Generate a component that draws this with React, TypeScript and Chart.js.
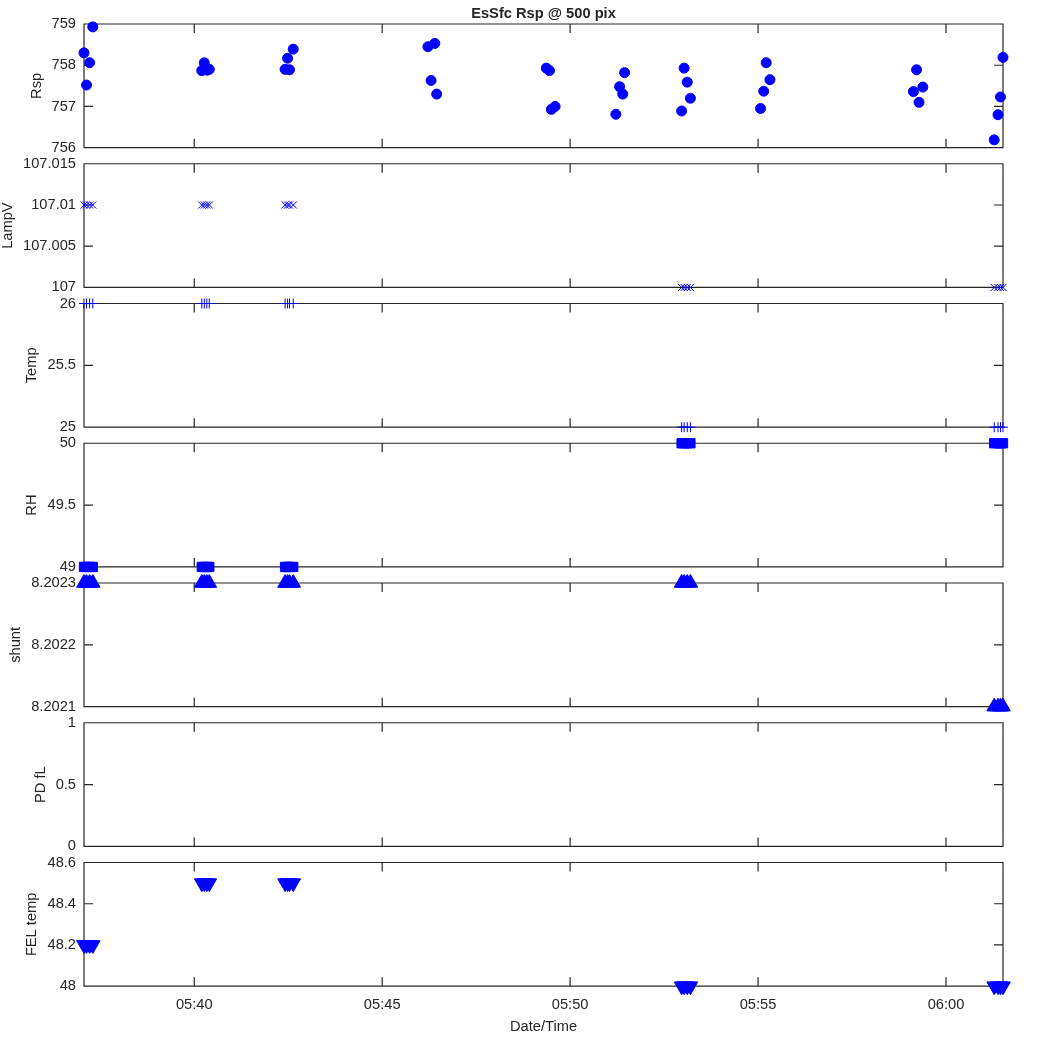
import React, { useEffect, useRef } from "react";
import { Chart, registerables } from "chart.js";

Chart.register(...registerables);

// ---------------- data ----------------
const TITLE = "EsSfc Rsp @ 500 pix";
const X_TITLE = "Date/Time";
const X_TICKS = ["05:40", "05:45", "05:50", "05:55", "06:00"];

const RSP_TIMES = [
  "05:37:04", "05:37:08", "05:37:13", "05:37:18",
  "05:40:12", "05:40:16", "05:40:20", "05:40:24",
  "05:42:25", "05:42:29", "05:42:32", "05:42:38",
  "05:46:13", "05:46:18", "05:46:24", "05:46:27",
  "05:49:22", "05:49:27", "05:49:30", "05:49:36",
  "05:51:13", "05:51:19", "05:51:24", "05:51:27",
  "05:52:58", "05:53:02", "05:53:07", "05:53:12",
  "05:55:04", "05:55:09", "05:55:13", "05:55:19",
  "05:59:08", "05:59:13", "05:59:17", "05:59:23",
  "06:01:17", "06:01:23", "06:01:27", "06:01:31",
];
const RSP = [
  758.30, 757.52, 758.06, 758.93,
  757.87, 758.06, 757.88, 757.90,
  757.90, 758.17, 757.89, 758.39,
  758.45, 757.63, 758.53, 757.30,
  757.93, 757.87, 756.93, 757.00,
  756.81, 757.48, 757.30, 757.82,
  756.89, 757.93, 757.59, 757.20,
  756.95, 757.37, 758.06, 757.65,
  757.36, 757.89, 757.10, 757.47,
  756.19, 756.80, 757.23, 758.19,
];

const AUX_TIMES = [
  "05:37:04", "05:37:08", "05:37:13", "05:37:18",
  "05:40:12", "05:40:16", "05:40:20", "05:40:24",
  "05:42:25", "05:42:29", "05:42:32", "05:42:38",
  "05:52:58", "05:53:02", "05:53:07", "05:53:12",
  "06:01:17", "06:01:23", "06:01:27", "06:01:31",
];
const LAMPV = [
  107.01, 107.01, 107.01, 107.01,
  107.01, 107.01, 107.01, 107.01,
  107.01, 107.01, 107.01, 107.01,
  107.0, 107.0, 107.0, 107.0,
  107.0, 107.0, 107.0, 107.0,
];
const TEMP = [
  26, 26, 26, 26,
  26, 26, 26, 26,
  26, 26, 26, 26,
  25, 25, 25, 25,
  25, 25, 25, 25,
];
const RH = [
  49, 49, 49, 49,
  49, 49, 49, 49,
  49, 49, 49, 49,
  50, 50, 50, 50,
  50, 50, 50, 50,
];
const SHUNT = [
  8.2023, 8.2023, 8.2023, 8.2023,
  8.2023, 8.2023, 8.2023, 8.2023,
  8.2023, 8.2023, 8.2023, 8.2023,
  8.2023, 8.2023, 8.2023, 8.2023,
  8.2021, 8.2021, 8.2021, 8.2021,
];
const PD_FL: number[] = [];
const FEL_TEMP = [
  48.2, 48.2, 48.2, 48.2,
  48.5, 48.5, 48.5, 48.5,
  48.5, 48.5, 48.5, 48.5,
  48.0, 48.0, 48.0, 48.0,
  48.0, 48.0, 48.0, 48.0,
];

const Y_TICKS_RSP = [756, 757, 758, 759];
const Y_TICKS_LAMPV = [107, 107.005, 107.01, 107.015];
const Y_TICKS_TEMP = [25, 25.5, 26];
const Y_TICKS_RH = [49, 49.5, 50];
const Y_TICKS_SHUNT = [8.2021, 8.2022, 8.2023];
const Y_TICKS_PD = [0, 0.5, 1];
const Y_TICKS_FEL = [48, 48.2, 48.4, 48.6];

// ---------------- helpers ----------------
const toMin = (s: string) => {
  const p = s.split(":").map(Number);
  return p[0] * 60 + p[1] + (p[2] || 0) / 60;
};
const fmtTime = (v: number) => {
  const h = Math.floor(v / 60 + 1e-9);
  const m = Math.round(v - h * 60);
  return String(h).padStart(2, "0") + ":" + String(m).padStart(2, "0");
};
const fmtNum = (v: number) => String(parseFloat(v.toFixed(4)));

const FONT_FAMILY = "'Liberation Sans', Arial, Helvetica, sans-serif";
const FONT_SIZE = 14.67;
const TEXT_COLOR = "#262626";
const AXIS_COLOR = "#262626";
const BLUE = "#0000ff";

const W = 1050;
const H = 1050;
const PLOT_LEFT = 84;
const PLOT_RIGHT = 1003;
const FIRST_TOP = 24;
const PITCH = 139.75;
const PANEL_H = 123.7;
const X_AXIS_H = 40;
const TICK_LEN = 9;

const X_MIN = toMin(RSP_TIMES[0]);
const X_MAX = toMin(RSP_TIMES[RSP_TIMES.length - 1]);

type Panel = {
  label: string;
  times: string[];
  values: number[];
  yTicks: number[];
  pointStyle: string;
  radius: number;
  rotation?: number;
};

const PANELS: Panel[] = [
  { label: "Rsp", times: RSP_TIMES, values: RSP, yTicks: Y_TICKS_RSP, pointStyle: "circle", radius: 5 },
  { label: "LampV", times: AUX_TIMES, values: LAMPV, yTicks: Y_TICKS_LAMPV, pointStyle: "crossRot", radius: 5 },
  { label: "Temp", times: AUX_TIMES, values: TEMP, yTicks: Y_TICKS_TEMP, pointStyle: "cross", radius: 5 },
  { label: "RH", times: AUX_TIMES, values: RH, yTicks: Y_TICKS_RH, pointStyle: "rect", radius: 6.6 },
  { label: "shunt", times: AUX_TIMES, values: SHUNT, yTicks: Y_TICKS_SHUNT, pointStyle: "triangle", radius: 8.5 },
  { label: "PD fL", times: [], values: PD_FL, yTicks: Y_TICKS_PD, pointStyle: "circle", radius: 5 },
  { label: "FEL temp", times: AUX_TIMES, values: FEL_TEMP, yTicks: Y_TICKS_FEL, pointStyle: "triangle", radius: 8.5, rotation: 180 },
];

const framePlugin = {
  id: "matlabFrame",
  beforeDatasetsDraw(chart: any) {
    const opts = chart.options.plugins.matlabFrame || {};
    const { ctx, chartArea } = chart;
    const { left, right, top, bottom } = chartArea;
    const xs = chart.scales.x;
    const ys = chart.scales.y;
    ctx.save();
    ctx.strokeStyle = AXIS_COLOR;
    ctx.lineWidth = 1.2;
    ctx.beginPath();
    ctx.rect(left, top, right - left, bottom - top);
    // x ticks (top & bottom, inward)
    X_TICKS.forEach((t) => {
      const px = xs.getPixelForValue(toMin(t));
      ctx.moveTo(px, bottom);
      ctx.lineTo(px, bottom - TICK_LEN);
      ctx.moveTo(px, top);
      ctx.lineTo(px, top + TICK_LEN);
    });
    // y ticks (left & right, inward)
    (opts.yTicks || []).forEach((v: number) => {
      const py = ys.getPixelForValue(v);
      ctx.moveTo(left, py);
      ctx.lineTo(left + TICK_LEN, py);
      ctx.moveTo(right, py);
      ctx.lineTo(right - TICK_LEN, py);
    });
    ctx.stroke();

    // y axis title
    ctx.font = `${FONT_SIZE}px ${FONT_FAMILY}`;
    let maxW = 0;
    (opts.yTicks || []).forEach((v: number) => {
      maxW = Math.max(maxW, ctx.measureText(fmtNum(v)).width);
    });
    const baseX = left - 8 - maxW - 11;
    ctx.fillStyle = TEXT_COLOR;
    ctx.save();
    ctx.translate(baseX, (top + bottom) / 2);
    ctx.rotate(-Math.PI / 2);
    ctx.textAlign = "center";
    ctx.textBaseline = "alphabetic";
    ctx.fillText(opts.yTitle || "", 0, 0);
    ctx.restore();

    if (opts.title) {
      ctx.font = `bold ${FONT_SIZE}px ${FONT_FAMILY}`;
      ctx.textAlign = "center";
      ctx.textBaseline = "alphabetic";
      ctx.fillText(opts.title, (left + right) / 2, 17.5);
    }
    if (opts.xTitle) {
      ctx.font = `${FONT_SIZE}px ${FONT_FAMILY}`;
      ctx.textAlign = "center";
      ctx.textBaseline = "alphabetic";
      ctx.fillText(opts.xTitle, (left + right) / 2, 1030.5);
    }
    ctx.restore();
  },
};

function PanelChart({ panel, index }: { panel: Panel; index: number }) {
  const ref = useRef<HTMLCanvasElement | null>(null);
  useEffect(() => {
    if (!ref.current) return;
    const isLast = index === PANELS.length - 1;
    const top = FIRST_TOP + index * PITCH;
    const bottom = top + PANEL_H;
    const pts = panel.times.map((t, i) => ({ x: toMin(t), y: panel.values[i] }));
    const yT = panel.yTicks;
    const chart = new Chart(ref.current, {
      type: "scatter",
      data: {
        datasets: [
          {
            data: pts,
            showLine: false,
            clip: false as any,
            pointStyle: panel.pointStyle as any,
            pointRadius: panel.radius,
            pointRotation: panel.rotation || 0,
            pointBackgroundColor: BLUE,
            pointBorderColor: BLUE,
            pointBorderWidth: 1,
            borderColor: BLUE,
            backgroundColor: BLUE,
          },
        ],
      },
      options: {
        responsive: false,
        animation: false,
        events: [],
        layout: {
          padding: {
            top: top,
            left: 0,
            right: W - PLOT_RIGHT,
            bottom: isLast ? H - bottom - X_AXIS_H : H - bottom,
          },
        },
        plugins: {
          legend: { display: false },
          tooltip: { enabled: false },
          title: { display: false },
          matlabFrame: {
            yTitle: panel.label,
            yTicks: yT,
            title: index === 0 ? TITLE : "",
            xTitle: isLast ? X_TITLE : "",
          },
        } as any,
        scales: {
          x: {
            type: "linear",
            min: X_MIN,
            max: X_MAX,
            display: isLast,
            afterBuildTicks: (s: any) => {
              s.ticks = X_TICKS.map((t) => ({ value: toMin(t) }));
            },
            afterFit: (s: any) => {
              s.height = isLast ? X_AXIS_H : 0;
            },
            ticks: {
              callback: (v: any) => fmtTime(Number(v)),
              autoSkip: false,
              maxRotation: 0,
              padding: 10,
              color: TEXT_COLOR,
              font: { family: FONT_FAMILY, size: FONT_SIZE },
            },
            grid: { display: false, drawTicks: false },
            border: { display: false },
          },
          y: {
            type: "linear",
            min: yT[0],
            max: yT[yT.length - 1],
            afterBuildTicks: (s: any) => {
              s.ticks = yT.map((v) => ({ value: v }));
            },
            afterFit: (s: any) => {
              s.width = PLOT_LEFT;
            },
            ticks: {
              callback: (v: any) => fmtNum(Number(v)),
              autoSkip: false,
              padding: 8,
              color: TEXT_COLOR,
              font: { family: FONT_FAMILY, size: FONT_SIZE },
            },
            grid: { display: false, drawTicks: false },
            border: { display: false },
          },
        },
      },
      plugins: [framePlugin],
    } as any);
    return () => chart.destroy();
  }, [panel, index]);
  return (
    <canvas
      ref={ref}
      width={W}
      height={H}
      style={{ position: "absolute", left: 0, top: 0, width: W, height: H }}
    />
  );
}

export default function App() {
  return (
    <div style={{ position: "absolute", left: 0, top: 0, width: W, height: H, background: "#ffffff" }}>
      {PANELS.map((p, i) => (
        <PanelChart key={p.label} panel={p} index={i} />
      ))}
    </div>
  );
}
